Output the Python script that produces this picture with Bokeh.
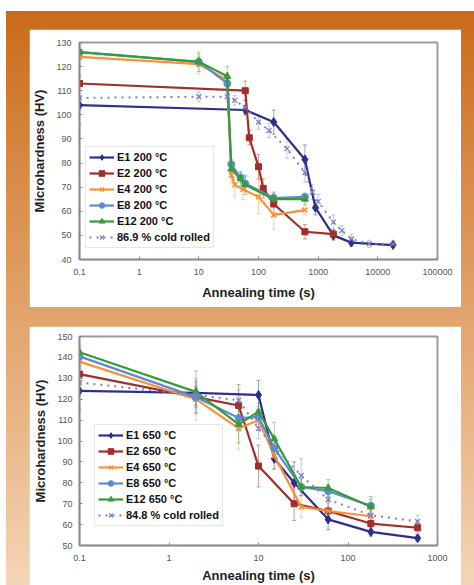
from bokeh.plotting import figure
from bokeh.layouts import column
from bokeh.models import (FixedTicker, CustomJSTickFormatter, Legend, LegendItem,
                          Whisker, ColumnDataSource, TeeHead, Range1d)
from bokeh.embed import file_html
from bokeh.resources import INLINE

FONT = "Liberation Sans"

# ---------------- data: 200 °C (top chart) ----------------
E1_t = [0.1, 60, 180, 600, 900, 1800, 3600, 18000]
E1_hv = [104, 102, 97, 81.5, 61.5, 50, 47, 46]
E1_err = [8, 2, 5, 6, 3, 2, 1.5, 1]

E2_t = [0.1, 60, 70, 100, 120, 180, 600, 1800]
E2_hv = [113, 110, 90.5, 78.5, 69.5, 63, 51.5, 50.5]
E2_err = [3, 4, 3, 5, 4, 4, 3, 2]

E4_t = [0.1, 10, 30, 35, 40, 55, 100, 180, 600]
E4_hv = [124, 121, 114.5, 75, 71, 69, 66, 58.5, 60.5]
E4_err = [3, 4, 3, 3, 5, 4, 7, 6, 2]

E8_t = [0.1, 10, 30, 35, 50, 60, 180, 600]
E8_hv = [126, 122, 113, 79.5, 74, 71.5, 65.5, 66]
E8_err = [2, 2, 2, 2, 2, 3, 2, 1.5]

E12_t = [0.1, 10, 30, 35, 50, 60, 180, 600]
E12_hv = [126, 122, 116, 77.5, 73.5, 71, 65, 65]
E12_err = [3, 4, 4, 3, 3, 4, 3, 2]

CR_t = [0.1, 10, 30, 40, 60, 100, 150, 300, 600, 800, 1000, 1800, 2500, 3600, 7200, 18000]
CR_hv = [107, 107.5, 107.5, 106, 103, 97, 93.5, 86, 76, 68, 64, 55.5, 52, 48.5, 46.5, 46.5]
CR_err = [5, 2, 2, 2, 3, 3, 3, 4, 4, 3, 3, 3, 2, 2, 1.5, 1.5]

LABELS_TOP = ["E1 200 °C", "E2 200 °C", "E4 200 °C", "E8 200 °C", "E12 200 °C", "86.9 % cold rolled"]

# ---------------- data: 650 °C (bottom chart) ----------------
E1_t2 = [0.1, 2, 10, 15, 25, 60, 180, 600]
E1_hv2 = [124, 123, 122, 91.5, 80, 62.5, 56.5, 53.5]
E1_err2 = [9, 3, 7, 5, 10, 5, 2, 1.5]

E2_t2 = [0.1, 2, 6, 10, 25, 60, 180, 600]
E2_hv2 = [132, 121, 117, 88, 70, 66.5, 60.5, 58.5]
E2_err2 = [4, 4, 10, 10, 8, 5, 3, 2]

E4_t2 = [0.1, 2, 6, 10, 15, 30, 60, 180]
E4_hv2 = [138, 120, 106, 110, 93, 68.5, 66.5, 64]
E4_err2 = [6, 10, 10, 5, 6, 5, 4, 3]

E8_t2 = [0.1, 2, 6, 10, 15, 30, 60, 180]
E8_hv2 = [140.5, 121, 111, 111.5, 96.5, 78, 76, 69]
E8_err2 = [5, 8, 6, 5, 4, 4, 3, 3]

E12_t2 = [0.1, 2, 6, 10, 15, 30, 60, 180]
E12_hv2 = [142.5, 123.5, 108, 114, 101, 78, 77.5, 68.5]
E12_err2 = [8, 10, 9, 4, 8, 4, 4, 5]

CR_t2 = [0.1, 2, 6, 10, 15, 30, 60, 180, 600]
CR_hv2 = [128, 122, 119.5, 106, 97, 83.5, 72, 64.5, 61.5]
CR_err2 = [5, 6, 5, 5, 5, 8, 5, 3, 3]

LABELS_BOT = ["E1 650 °C", "E2 650 °C", "E4 650 °C", "E8 650 °C", "E12 650 °C", "84.8 % cold rolled"]

X_TICKS_TOP = [0.1, 1, 10, 100, 1000, 10000, 100000]
X_TICKS_BOT = [0.1, 1, 10, 100, 1000]
Y_TICKS_TOP = [40, 50, 60, 70, 80, 90, 100, 110, 120, 130]
Y_TICKS_BOT = [50, 60, 70, 80, 90, 100, 110, 120, 130, 140, 150]

# styles: (color, marker, size, dash)
STYLES = [
    ("#2c2f8e", "diamond", 9, "solid"),
    ("#a12e2a", "square", 6, "solid"),
    ("#f7923a", "x", 7, "solid"),
    ("#5b8bd0", "circle", 7, "solid"),
    ("#3a9a3a", "triangle", 7, "solid"),
    ("#7f80c4", "x", 7, "2 5"),
]


def make_chart(series, labels, width, height, borders, x_range, y_range, xticks, yticks,
               xl_standoff, xal_standoff, yl_standoff, yal_standoff, leg_loc, leg_spacing, margin):
    p = figure(width=width, height=height, x_axis_type="log",
               x_range=Range1d(*x_range), y_range=Range1d(*y_range),
               output_backend="svg", toolbar_location=None, margin=margin)
    p.min_border_left, p.min_border_right, p.min_border_top, p.min_border_bottom = borders
    p.background_fill_color = "white"
    p.border_fill_color = "white"
    p.outline_line_color = "#9c9c9c"
    p.outline_line_width = 2
    p.xgrid.visible = False
    p.ygrid.visible = False

    p.xaxis.ticker = FixedTicker(ticks=xticks)
    p.xaxis.formatter = CustomJSTickFormatter(code="return tick < 1 ? tick.toFixed(1) : tick.toFixed(0);")
    p.yaxis.ticker = FixedTicker(ticks=yticks)
    for ax in (p.xaxis, p.yaxis):
        ax.axis_line_color = "#8a8a8a"
        ax.axis_line_width = 1.5
        ax.major_tick_line_color = "#8a8a8a"
        ax.major_tick_in = 3
        ax.major_tick_out = 0
        ax.minor_tick_line_color = None
        ax.major_label_text_font = FONT
        ax.major_label_text_font_size = "9px"
        ax.major_label_text_color = "#555555"
        ax.axis_label_text_font = FONT
        ax.axis_label_text_font_size = "13px"
        ax.axis_label_text_font_style = "bold"
        ax.axis_label_text_color = "#1e1e1e"
    p.xaxis.axis_label = "Annealing time (s)"
    p.yaxis.axis_label = "Microhardness (HV)"
    p.xaxis.major_label_standoff = xl_standoff
    p.xaxis.axis_label_standoff = xal_standoff
    p.yaxis.major_label_standoff = yl_standoff
    p.yaxis.axis_label_standoff = yal_standoff

    items = []
    for (t, hv, err), label, (color, marker, size, dash) in zip(series, labels, STYLES):
        src = ColumnDataSource(dict(t=t, hv=hv,
                                    up=[a + b for a, b in zip(hv, err)],
                                    lo=[a - b for a, b in zip(hv, err)]))
        w = Whisker(source=src, base="t", upper="up", lower="lo",
                    line_color=color, line_alpha=0.45, line_width=1,
                    upper_head=TeeHead(size=4, line_color=color, line_alpha=0.45),
                    lower_head=TeeHead(size=4, line_color=color, line_alpha=0.45))
        p.add_layout(w)
        ln = p.line("t", "hv", source=src, line_color=color, line_width=2.2 if dash == "solid" else 2,
                    line_dash=dash)
        if marker == "x":
            sc = p.scatter("t", "hv", source=src, marker="x", size=size, line_color=color,
                           line_width=1.6 if dash == "solid" else 1.2)
        else:
            sc = p.scatter("t", "hv", source=src, marker=marker, size=size, fill_color=color,
                           line_color=color)
        items.append(LegendItem(label=label, renderers=[ln, sc]))

    legend = Legend(items=items, location=leg_loc, glyph_width=25, glyph_height=14,
                    label_height=14, label_standoff=3, spacing=leg_spacing, padding=3, margin=0,
                    label_text_font=FONT, label_text_font_size="11px", label_text_font_style="bold",
                    label_text_color="#111111", border_line_color="#cfcfcf", border_line_width=1,
                    background_fill_color="white", background_fill_alpha=1)
    p.add_layout(legend, "center")
    return p


top_series = [(E1_t, E1_hv, E1_err), (E2_t, E2_hv, E2_err), (E4_t, E4_hv, E4_err),
              (E8_t, E8_hv, E8_err), (E12_t, E12_hv, E12_err), (CR_t, CR_hv, CR_err)]
bot_series = [(E1_t2, E1_hv2, E1_err2), (E2_t2, E2_hv2, E2_err2), (E4_t2, E4_hv2, E4_err2),
              (E8_t2, E8_hv2, E8_err2), (E12_t2, E12_hv2, E12_err2), (CR_t2, CR_hv2, CR_err2)]

p1 = make_chart(top_series, LABELS_TOP, 432, 278, (47, 24, 13, 48), (0.1, 100000), (40, 130),
                X_TICKS_TOP, Y_TICKS_TOP, 9, 7, 8, 6, (6, 11), 2, (29, 13, 19, 29))
p2 = make_chart(bot_series, LABELS_BOT, 432, 259, (49, 17, 10, 37), (0.1, 1000), (50, 150),
                X_TICKS_BOT, Y_TICKS_BOT, 9, 4, 7, 6, (15, 19), 2, (0, 13, 0, 29))

bg = ("linear-gradient(to right, #ffffff 6px, rgba(255,255,255,0) 6px), "
      "linear-gradient(to bottom, #ffffff 11px, #ca6b1a 11px, #d4823a 22%, #e0a066 50%, "
      "#eab98c 75%, #f3d6b6 100%)")
layout = column(p1, p2, styles={"background": bg, "position": "fixed", "left": "0px", "top": "0px"})

open("out.html", "w").write(file_html(layout, INLINE))
